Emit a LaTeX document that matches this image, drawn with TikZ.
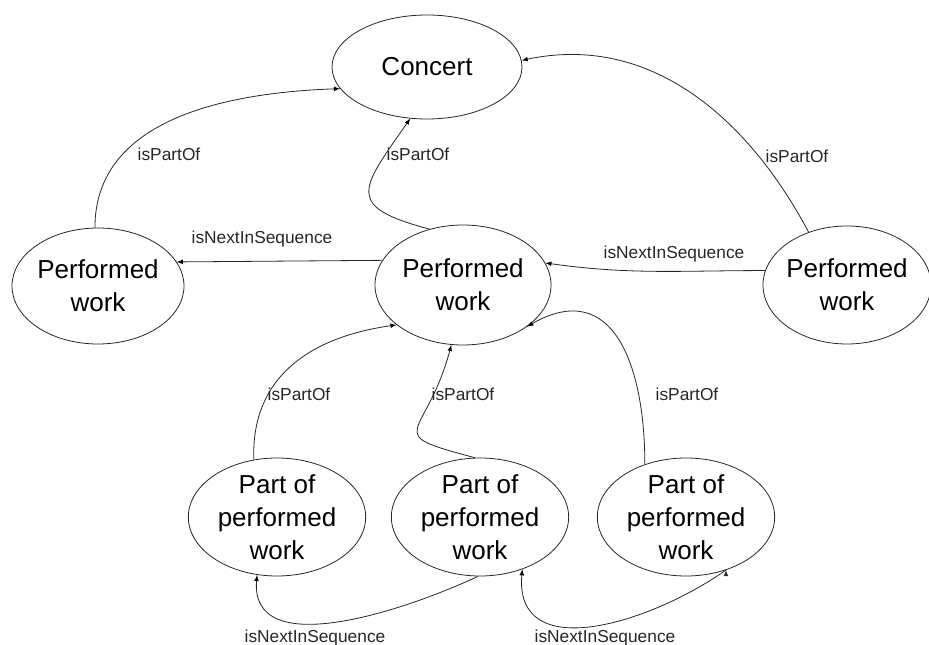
\documentclass[tikz,border=0pt]{standalone}
\usepackage{fontspec}
\setmainfont{Liberation Sans}
\usetikzlibrary{shapes.geometric}

\begin{document}
\begin{tikzpicture}[x=0.75pt,y=0.75pt,-,>=latex,
                    main node/.style={ellipse,draw=black!85,line width=0.6pt,inner sep=-12pt,align=center,font=\fontsize{19.5}{24.8}\selectfont},
                    part node/.style={main node,minimum width=133pt,minimum height=88.5pt},
                    lbl/.style={inner sep=0pt,text=black!85,font=\fontsize{13}{15}\selectfont}]

  \useasboundingbox (0,0) rectangle (929,-645);

  \node[main node,minimum width=142.5pt,minimum height=78pt] (1) at (427,-67) {Concert};
  \node[main node,minimum width=129pt,minimum height=87pt] (2) at (98,-286) {Performed\\work};
  \node[main node,minimum width=132pt,minimum height=90pt] (3) at (463,-285) {Performed\\work};
  \node[main node,minimum width=126pt,minimum height=88.5pt] (4) at (847,-285) {Performed\\work};
  \node[part node] (5) at (277,-517) {Part of\\performed\\work};
  \node[part node] (6) at (480,-517) {Part of\\performed\\work};
  \node[part node] (7) at (686,-517) {Part of\\performed\\work};

  \path[->,draw=black!85,line width=0.6pt]
    (2.93) edge[out=90,in=182] (1.194)
    (3.121) edge[out=165,in=235,looseness=2] (1.252)
    (4.126) edge[out=118,in=12] (1.4)
    (3.163) edge (2.17)
    (4.170) edge[out=180,in=-8] (3.15)
    (5.112) edge[out=92,in=188,looseness=1.1] (3.211)
    (6.95) edge[out=165,in=255,looseness=2.2] (3.259)
    (7.128) edge[out=90,in=30,looseness=1.4] (3.327)
    (6.268) edge[out=205,in=265] (5.251)
    (7.307) edge[out=215,in=265,looseness=1.2] (6.309);

  \node[lbl] (a) at (169,-154) {isPartOf};
  \node[lbl] (b) at (418,-154) {isPartOf};
  \node[lbl] (c) at (797,-156) {isPartOf};
  \node[lbl] (d) at (262,-239) {isNextInSequence};
  \node[lbl] (e) at (674,-254) {isNextInSequence};
  \node[lbl] (f) at (299,-394) {isPartOf};
  \node[lbl] (g) at (463,-394) {isPartOf};
  \node[lbl] (h) at (687,-394) {isPartOf};
  \node[lbl] (i) at (315,-638) {isNextInSequence};
  \node[lbl] (j) at (605,-638) {isNextInSequence};

\end{tikzpicture}
\end{document}
